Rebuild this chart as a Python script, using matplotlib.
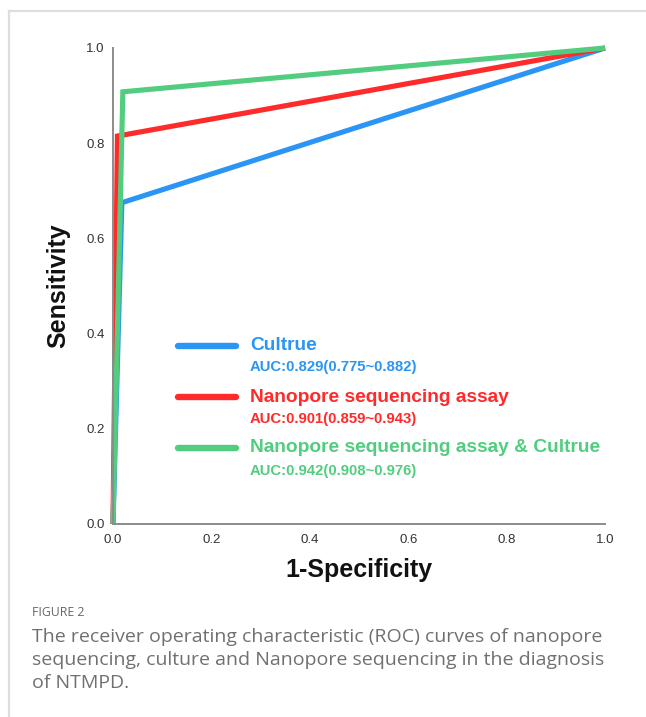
import matplotlib
matplotlib.use("Agg")
import matplotlib.pyplot as plt
from matplotlib.lines import Line2D

# ROC data (1-specificity, sensitivity)
fpr_culture = [0.0, 0.018, 1.0]
tpr_culture = [0.0, 0.675, 1.0]
fpr_nano = [0.0, 0.009, 1.0]
tpr_nano = [0.0, 0.815, 1.0]
fpr_combo = [0.0, 0.02, 1.0]
tpr_combo = [0.0, 0.908, 1.0]

series_names = ["Cultrue", "Nanopore sequencing assay", "Nanopore sequencing assay & Cultrue"]
auc_texts = ["AUC:0.829(0.775~0.882)", "AUC:0.901(0.859~0.943)", "AUC:0.942(0.908~0.976)"]
colors = ["#2B95F5", "#FF2A2A", "#52CD7F"]
ticks = [0.0, 0.2, 0.4, 0.6, 0.8, 1.0]
tick_labels = ["0.0", "0.2", "0.4", "0.6", "0.8", "1.0"]

plt.rcParams['font.family'] = ['Liberation Sans', 'DejaVu Sans']

W, H = 646, 717
fig = plt.figure(figsize=(W / 100, H / 100), dpi=100)

# axes placement
x0, x1, y0, y1 = 113, 605, 524, 48
ax = fig.add_axes([x0 / W, (H - y0) / H, (x1 - x0) / W, (y0 - y1) / H])

data = [(fpr_culture, tpr_culture), (fpr_nano, tpr_nano), (fpr_combo, tpr_combo)]
for (fx, ty), c in zip(data, colors):
    ax.plot(fx, ty, color=c, lw=3.7, solid_joinstyle='miter', solid_capstyle='butt', clip_on=False)

ax.set_xlim(0, 1)
ax.set_ylim(0, 1)
ax.set_xticks(ticks)
ax.set_xticklabels(tick_labels)
ax.set_yticks(ticks)
ax.set_yticklabels(tick_labels)
ax.tick_params(length=0, labelsize=9.5, labelcolor="#333333")
ax.tick_params(axis='y', pad=6)
ax.tick_params(axis='x', pad=7)
for s in ['top', 'right']:
    ax.spines[s].set_visible(False)
for s in ['left', 'bottom']:
    ax.spines[s].set_color('#8c8c8c')
    ax.spines[s].set_linewidth(1.4)

ax.set_xlabel("1-Specificity", fontsize=18, fontweight='bold', color='#111111')
ax.set_ylabel("Sensitivity", fontsize=18, fontweight='bold', color='#111111')
ax.xaxis.set_label_coords(0.5, -0.097)
ax.xaxis.label.set_verticalalignment('center')
ax.yaxis.set_label_coords(-0.112, 0.5)
ax.yaxis.label.set_verticalalignment('center')

# custom legend
def ax_x(px):
    return (px - x0) / (x1 - x0)

def ax_y(py):
    return (y0 - py) / (y0 - y1)

handle_y = [346, 397, 448]
auc_y = [367, 419, 471]
for name, auc, c, hy, ay in zip(series_names, auc_texts, colors, handle_y, auc_y):
    ax.plot([ax_x(178), ax_x(236)], [ax_y(hy), ax_y(hy)], color=c, lw=4.6,
            solid_capstyle='round', transform=ax.transAxes, clip_on=False)
    ax.text(ax_x(250), ax_y(hy), name, color=c, fontsize=13.8, fontweight='bold',
            ha='left', va='center', transform=ax.transAxes)
    ax.text(ax_x(250), ax_y(ay), auc, color=c, fontsize=10.7, fontweight='bold',
            ha='left', va='center', transform=ax.transAxes)

# frame border
fig.add_artist(Line2D([8.5 / W, 1.0], [1 - 10.5 / H, 1 - 10.5 / H], color='#dedede', lw=1.6,
                      transform=fig.transFigure))
fig.add_artist(Line2D([8.5 / W, 8.5 / W], [1 - 10.5 / H, 0.0], color='#dedede', lw=1.6,
                      transform=fig.transFigure))

# caption
fig.text(32 / W, 1 - 612 / H, "FIGURE 2", fontsize=8.8, color='#666666',
         family=['Open Sans', 'DejaVu Sans'], ha='left', va='center')
cap_lines = ["The receiver operating characteristic (ROC) curves of nanopore",
             "sequencing, culture and Nanopore sequencing in the diagnosis",
             "of NTMPD."]
for line, cy in zip(cap_lines, [637, 660, 683]):
    fig.text(32 / W, 1 - cy / H, line, fontsize=14, color='#707070',
             family=['Open Sans', 'DejaVu Sans'], ha='left', va='center')

fig.savefig("out.png", dpi=100, facecolor='white')
